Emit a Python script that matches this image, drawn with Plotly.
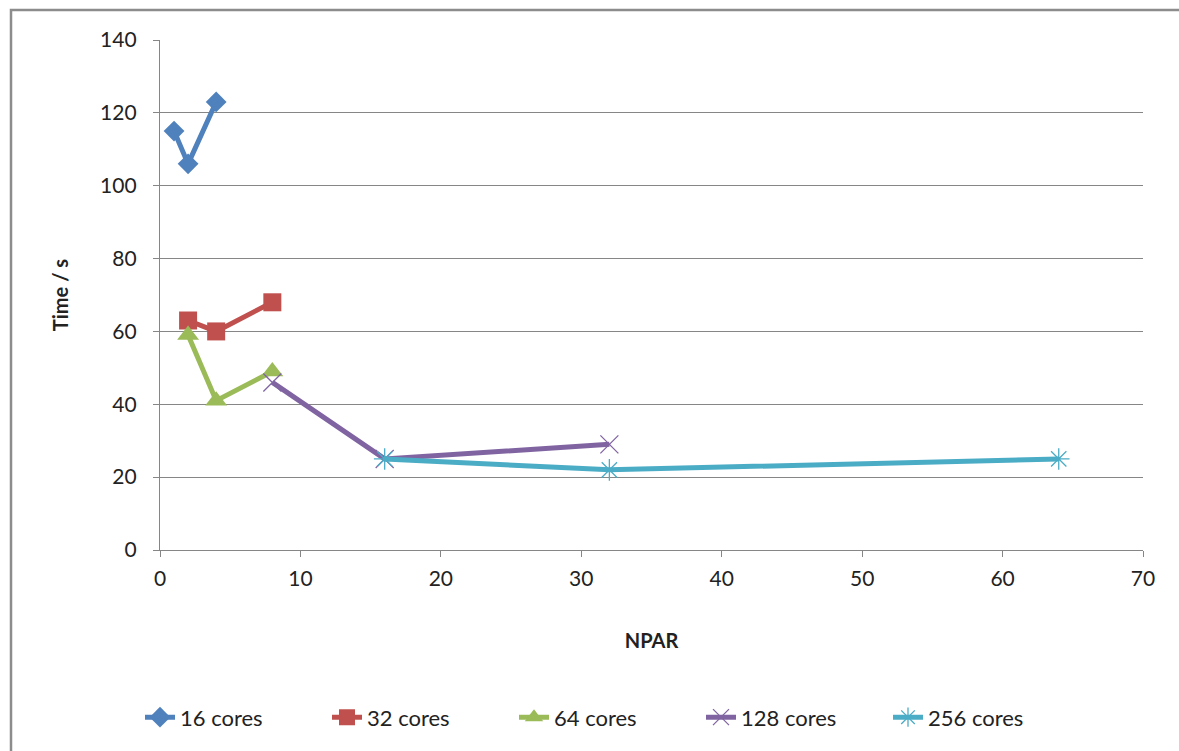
import plotly.graph_objects as go

series_names = ["16 cores", "32 cores", "64 cores", "128 cores", "256 cores"]
npar_16 = [1, 2, 4]
time_16 = [115, 106, 123]
npar_32 = [2, 4, 8]
time_32 = [63, 60, 68]
npar_64 = [2, 4, 8]
time_64 = [59, 41, 49]
npar_128 = [8, 16, 32]
time_128 = [46, 25, 29]
npar_256 = [16, 32, 64]
time_256 = [25, 22, 25]

x_ticks = [0, 10, 20, 30, 40, 50, 60, 70]
y_ticks = [0, 20, 40, 60, 80, 100, 120, 140]

colors = ["#4F81BD", "#C0504D", "#9BBB59", "#8064A2", "#4BACC6"]
symbols = ["diamond", "square", "triangle-up", "x-thin-open", "asterisk-open"]
sizes = [16, 18, 19, 18, 18]

data = [(npar_16, time_16), (npar_32, time_32), (npar_64, time_64),
        (npar_128, time_128), (npar_256, time_256)]

fig = go.Figure()
for i, (xs, ys) in enumerate(data):
    open_marker = symbols[i].endswith("open")
    fig.add_trace(go.Scatter(
        x=xs, y=ys, mode="lines+markers", name=series_names[i],
        line=dict(color=colors[i], width=5),
        marker=dict(symbol=symbols[i], size=sizes[i], color=colors[i],
                    line=dict(color=colors[i], width=1.3 if open_marker else 0)),
    ))

W, H = 1179, 751
L, R, T, B = 160, 36, 40, 199
pw, ph = W - L - R, H - T - B

def px_x(p):
    return (p - L) / pw

def px_y(p):
    return (H - B - p) / ph

fig.add_shape(type="rect", xref="paper", yref="paper",
              x0=px_x(11), x1=px_x(1190), y0=px_y(10), y1=px_y(770),
              line=dict(color="#8C8C8C", width=2.5), fillcolor="rgba(0,0,0,0)", layer="below")

font_family = "Lato, 'Open Sans', sans-serif"
fig.update_layout(
    width=W, height=H,
    margin=dict(l=L, r=R, t=T, b=B),
    paper_bgcolor="white", plot_bgcolor="white",
    font=dict(family=font_family, size=21, color="#222222"),
    showlegend=True,
    legend=dict(orientation="h", x=px_x(140), xanchor="left", y=px_y(720), yanchor="middle",
                font=dict(size=22), entrywidth=142, traceorder="normal"),
    xaxis=dict(range=[0, 70], tickvals=x_ticks, showgrid=False, zeroline=False,
               showline=True, linecolor="#868686", linewidth=1.3,
               ticks="outside", ticklen=6, tickcolor="#868686",
               tickfont=dict(size=21), ticklabelstandoff=4,
               title=dict(text="<b>NPAR</b>", font=dict(size=20), standoff=44)),
    yaxis=dict(range=[0, 140], tickvals=y_ticks, showgrid=True, gridcolor="#868686",
               gridwidth=1.3, zeroline=False,
               showline=True, linecolor="#868686", linewidth=1.3,
               ticks="outside", ticklen=6, tickcolor="#868686",
               tickfont=dict(size=21), ticklabelstandoff=12,
               title=dict(text="<b>Time / s</b>", font=dict(size=20), standoff=26)),
)

fig.write_html("out.html")
